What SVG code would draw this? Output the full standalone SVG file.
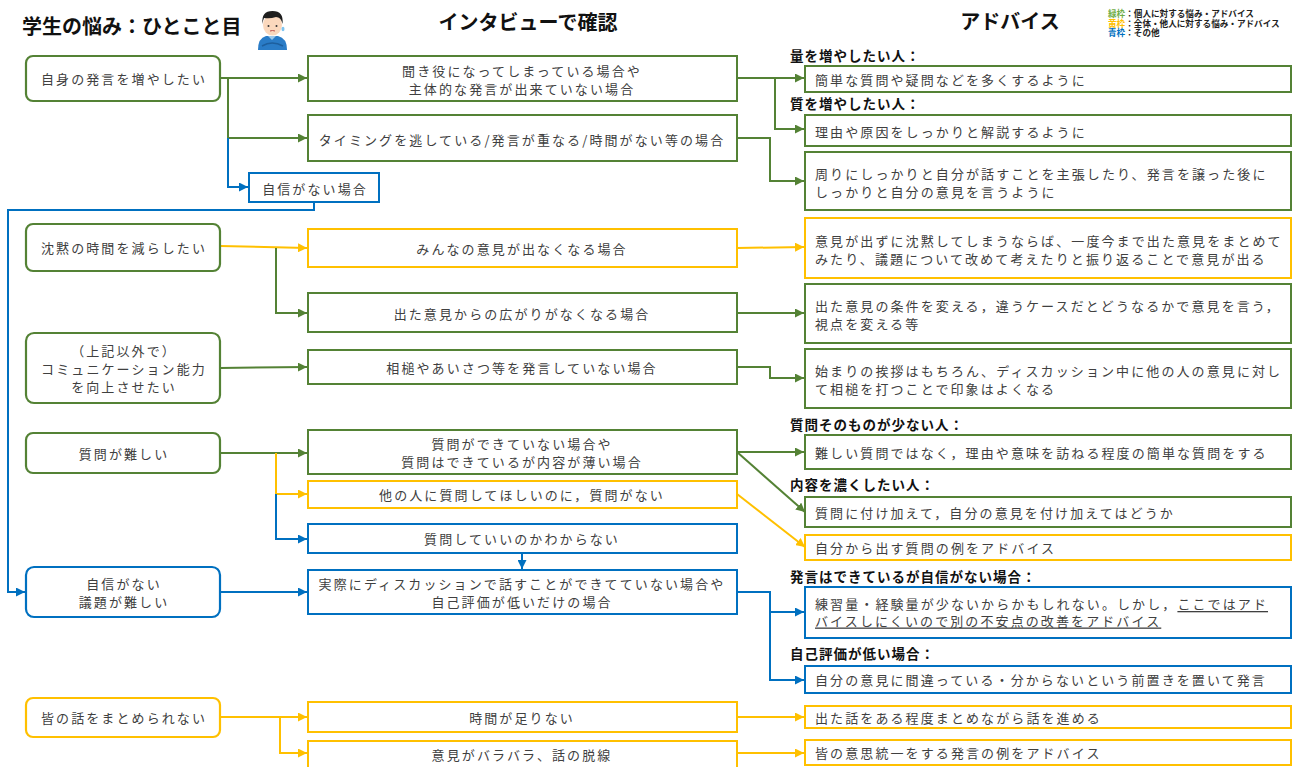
<svg xmlns="http://www.w3.org/2000/svg" width="1297" height="767" viewBox="0 0 1297 767">
  <style>
    .bx { fill: #fff; stroke-width: 2; }
    .rd { fill: #fff; stroke-width: 2.2; }
    .g { stroke: #548235; }
    .y { stroke: #FFC000; }
    .b { stroke: #0070C0; }
    .t { font-family: "Noto Sans CJK JP", "Noto Sans", sans-serif; font-size: 13px; fill: #404040; letter-spacing: 2.1px; dominant-baseline: central; }
    .c { text-anchor: middle; }
    .h { font-family: "Noto Sans CJK JP", "Noto Sans", sans-serif; font-size: 13.5px; font-weight: bold; fill: #111; letter-spacing: 1px; dominant-baseline: central; }
    .ttl { font-family: "Noto Sans CJK JP", "Noto Sans", sans-serif; font-size: 20px; font-weight: bold; fill: #111; dominant-baseline: central; }
    .lg { font-family: "Noto Sans CJK JP", "Noto Sans", sans-serif; font-size: 8.6px; font-weight: bold; fill: #222; dominant-baseline: central; }
    .ln { fill: none; stroke-width: 2; }
    .u { text-decoration: underline; }
  </style>
  <defs>
    <marker id="ag" viewBox="0 0 10 10" refX="10" refY="5" markerWidth="9" markerHeight="9" markerUnits="userSpaceOnUse" orient="auto"><path d="M0,0 L10,5 L0,10z" fill="#548235"/></marker>
    <marker id="ay" viewBox="0 0 10 10" refX="10" refY="5" markerWidth="9" markerHeight="9" markerUnits="userSpaceOnUse" orient="auto"><path d="M0,0 L10,5 L0,10z" fill="#FFC000"/></marker>
    <marker id="ab" viewBox="0 0 10 10" refX="10" refY="5" markerWidth="9" markerHeight="9" markerUnits="userSpaceOnUse" orient="auto"><path d="M0,0 L10,5 L0,10z" fill="#0070C0"/></marker>
  </defs>

  <rect width="1297" height="767" fill="#fff"/>

  <!-- headers -->
  <g id="headers">
    <text class="ttl" x="22" y="25">学生の悩み：ひとこと目</text>
    <text class="ttl c" x="528" y="21">インタビューで確認</text>
    <text class="ttl c" x="1010" y="20">アドバイス</text>
  </g>

  <!-- worried student figure -->
  <g id="figure">
    <path d="M258,50 Q258,38 266,36 L278,36 Q287,38 287,50 Z" fill="#2a7cc7"/>
    <path d="M262,46 Q272,40 283,46" fill="none" stroke="#1d5f9e" stroke-width="1.5"/>
    <path d="M268,36 L272,40 L276,36 Z" fill="#9cc8ea"/>
    <ellipse cx="272.5" cy="25" rx="9.5" ry="10.5" fill="#fbd8bd"/>
    <path d="M262.5,24 Q261,11 272.5,11 Q284,11 282.5,24 Q281,17 276,17 Q270,19 264,18 Q263,20 262.5,24 Z" fill="#1e1e1e"/>
    <circle cx="268.5" cy="26" r="1" fill="#333"/>
    <circle cx="276.5" cy="26" r="1" fill="#333"/>
    <path d="M270,31 Q272.5,30 275,31" fill="none" stroke="#c0504d" stroke-width="1"/>
    <ellipse cx="283" cy="29" rx="1.5" ry="2.2" fill="#7fc4f0"/>
  </g>

  <!-- legend -->
  <g id="legend">
    <text class="lg" x="1108" y="13"><tspan fill="#70AD47">緑枠</tspan>：個人に対する悩み・アドバイス</text>
    <text class="lg" x="1108" y="22.5"><tspan fill="#FFC000">黄枠</tspan>：全体・他人に対する悩み・アドバイス</text>
    <text class="lg" x="1108" y="32"><tspan fill="#0070C0">青枠</tspan>：その他</text>
  </g>

  <!-- connectors -->
  <g id="connectors">
    <path class="ln g" d="M220,78 H307" marker-end="url(#ag)"/>
    <path class="ln g" d="M228,78 V138 H307" marker-end="url(#ag)"/>
    <path class="ln b" d="M228,138 V187 H248" marker-end="url(#ab)"/>
    <path class="ln b" d="M314,202 V210 H8 V592 H25" marker-end="url(#ab)"/>
    <path class="ln g" d="M737,78 H804" marker-end="url(#ag)"/>
    <path class="ln g" d="M775,78 V129 H804" marker-end="url(#ag)"/>
    <path class="ln g" d="M737,138 H770 V181 H804" marker-end="url(#ag)"/>

    <path class="ln y" d="M220,246 L307,248" marker-end="url(#ay)"/>
    <path class="ln g" d="M276,248 V313 H307" marker-end="url(#ag)"/>
    <path class="ln y" d="M737,248 L804,247" marker-end="url(#ay)"/>
    <path class="ln g" d="M737,313 H804" marker-end="url(#ag)"/>
    <path class="ln g" d="M220,368 L307,367" marker-end="url(#ag)"/>
    <path class="ln g" d="M737,367 H770 V378 H804" marker-end="url(#ag)"/>

    <path class="ln g" d="M220,453 H307" marker-end="url(#ag)"/>
    <path class="ln y" d="M276,453 V494 H307" marker-end="url(#ay)"/>
    <path class="ln b" d="M276,494 V539 H307" marker-end="url(#ab)"/>
    <path class="ln b" d="M522,553 V569" marker-end="url(#ab)"/>
    <path class="ln b" d="M220,592 H307" marker-end="url(#ab)"/>
    <path class="ln g" d="M737,452 H804" marker-end="url(#ag)"/>
    <path class="ln g" d="M737,452 L805,512" marker-end="url(#ag)"/>
    <path class="ln y" d="M737,494 L805,547" marker-end="url(#ay)"/>
    <path class="ln b" d="M737,592 H770 V680 H804" marker-end="url(#ab)"/>
    <path class="ln b" d="M770,612 H804" marker-end="url(#ab)"/>

    <path class="ln y" d="M220,717 H307" marker-end="url(#ay)"/>
    <path class="ln y" d="M280,717 V753 H307" marker-end="url(#ay)"/>
    <path class="ln y" d="M737,717 H804" marker-end="url(#ay)"/>
    <path class="ln y" d="M737,753 H804" marker-end="url(#ay)"/>
  </g>

  <!-- concerns (left column) -->
  <g id="n-speak-more">
    <rect class="rd g" x="26" y="56" width="194" height="45" rx="7"/>
    <text class="t c" x="124" y="78">自身の発言を増やしたい</text>
  </g>
  <g id="n-silence">
    <rect class="rd g" x="26" y="224" width="194" height="47" rx="7"/>
    <text class="t c" x="124" y="247">沈黙の時間を減らしたい</text>
  </g>
  <g id="n-communication">
    <rect class="rd g" x="26" y="333" width="194" height="70" rx="8"/>
    <text class="t c" x="124" y="350">（上記以外で）</text>
    <text class="t c" x="124" y="368">コミュニケーション能力</text>
    <text class="t c" x="124" y="386">を向上させたい</text>
  </g>
  <g id="n-questions-hard">
    <rect class="rd g" x="26" y="433" width="194" height="40" rx="7"/>
    <text class="t c" x="124" y="453">質問が難しい</text>
  </g>
  <g id="n-no-confidence">
    <rect class="rd b" x="26" y="567" width="194" height="50" rx="8"/>
    <text class="t c" x="124" y="583">自信がない</text>
    <text class="t c" x="124" y="601">議題が難しい</text>
  </g>
  <g id="n-summarize">
    <rect class="rd y" x="26" y="698" width="194" height="39" rx="7"/>
    <text class="t c" x="124" y="717">皆の話をまとめられない</text>
  </g>

  <!-- interview findings (middle column) -->
  <g id="m-listener">
    <rect class="bx g" x="308" y="56" width="429" height="45"/>
    <text class="t c" x="522" y="70">聞き役になってしまっている場合や</text>
    <text class="t c" x="522" y="88">主体的な発言が出来ていない場合</text>
  </g>
  <g id="m-timing">
    <rect class="bx g" x="308" y="115" width="429" height="46"/>
    <text class="t c" x="522" y="139">タイミングを逃している/発言が重なる/時間がない等の場合</text>
  </g>
  <g id="m-no-confidence">
    <rect class="bx b" x="249" y="173" width="130" height="29"/>
    <text class="t c" x="315" y="188">自信がない場合</text>
  </g>
  <g id="m-no-opinions">
    <rect class="bx y" x="308" y="229" width="429" height="38"/>
    <text class="t c" x="522" y="248">みんなの意見が出なくなる場合</text>
  </g>
  <g id="m-no-spread">
    <rect class="bx g" x="308" y="293" width="429" height="39"/>
    <text class="t c" x="522" y="313">出た意見からの広がりがなくなる場合</text>
  </g>
  <g id="m-no-aizuchi">
    <rect class="bx g" x="308" y="350" width="429" height="34"/>
    <text class="t c" x="522" y="367">相槌やあいさつ等を発言していない場合</text>
  </g>
  <g id="m-weak-questions">
    <rect class="bx g" x="308" y="430" width="429" height="44"/>
    <text class="t c" x="522" y="443">質問ができていない場合や</text>
    <text class="t c" x="522" y="461">質問はできているが内容が薄い場合</text>
  </g>
  <g id="m-no-questions">
    <rect class="bx y" x="308" y="481" width="429" height="27"/>
    <text class="t c" x="522" y="494">他の人に質問してほしいのに，質問がない</text>
  </g>
  <g id="m-unsure">
    <rect class="bx b" x="308" y="524" width="429" height="29"/>
    <text class="t c" x="522" y="538">質問していいのかわからない</text>
  </g>
  <g id="m-self-eval">
    <rect class="bx b" x="308" y="570" width="429" height="44"/>
    <text class="t c" x="522" y="583">実際にディスカッションで話すことができてていない場合や</text>
    <text class="t c" x="522" y="601">自己評価が低いだけの場合</text>
  </g>
  <g id="m-no-time">
    <rect class="bx y" x="308" y="702" width="429" height="30"/>
    <text class="t c" x="522" y="717">時間が足りない</text>
  </g>
  <g id="m-scattered">
    <rect class="bx y" x="308" y="741" width="429" height="28"/>
    <text class="t c" x="522" y="754">意見がバラバラ、話の脱線</text>
  </g>

  <!-- advice (right column) -->
  <g id="a-quantity">
    <text class="h" x="790" y="55">量を増やしたい人：</text>
    <rect class="bx g" x="805" y="66" width="486" height="26"/>
    <text class="t" x="815" y="79">簡単な質問や疑問などを多くするように</text>
  </g>
  <g id="a-quality">
    <text class="h" x="790" y="103">質を増やしたい人：</text>
    <rect class="bx g" x="805" y="115" width="486" height="31"/>
    <text class="t" x="815" y="131">理由や原因をしっかりと解説するように</text>
  </g>
  <g id="a-assert">
    <rect class="bx g" x="805" y="152" width="486" height="58"/>
    <text class="t" x="815" y="173">周りにしっかりと自分が話すことを主張したり、発言を譲った後に</text>
    <text class="t" x="815" y="191">しっかりと自分の意見を言うように</text>
  </g>
  <g id="a-reflect">
    <rect class="bx y" x="805" y="218" width="486" height="60"/>
    <text class="t" x="815" y="240">意見が出ずに沈黙してしまうならば、一度今まで出た意見をまとめて</text>
    <text class="t" x="815" y="258">みたり、議題について改めて考えたりと振り返ることで意見が出る</text>
  </g>
  <g id="a-conditions">
    <rect class="bx g" x="805" y="284" width="486" height="59"/>
    <text class="t" x="815" y="305">出た意見の条件を変える，違うケースだとどうなるかで意見を言う，</text>
    <text class="t" x="815" y="323">視点を変える等</text>
  </g>
  <g id="a-greeting">
    <rect class="bx g" x="805" y="349" width="486" height="59"/>
    <text class="t" x="815" y="370">始まりの挨拶はもちろん、ディスカッション中に他の人の意見に対し</text>
    <text class="t" x="815" y="388">て相槌を打つことで印象はよくなる</text>
  </g>
  <g id="a-simple-questions">
    <text class="h" x="790" y="424">質問そのものが少ない人：</text>
    <rect class="bx g" x="805" y="435" width="486" height="34"/>
    <text class="t" x="815" y="452">難しい質問ではなく，理由や意味を訪ねる程度の簡単な質問をする</text>
  </g>
  <g id="a-add-opinion">
    <text class="h" x="790" y="484">内容を濃くしたい人：</text>
    <rect class="bx g" x="805" y="497" width="486" height="30"/>
    <text class="t" x="815" y="512">質問に付け加えて，自分の意見を付け加えてはどうか</text>
  </g>
  <g id="a-question-examples">
    <rect class="bx y" x="805" y="535" width="486" height="25"/>
    <text class="t" x="815" y="547">自分から出す質問の例をアドバイス</text>
  </g>
  <g id="a-practice">
    <text class="h" x="790" y="576">発言はできているが自信がない場合：</text>
    <rect class="bx b" x="805" y="587" width="486" height="51"/>
    <text class="t" x="815" y="603">練習量・経験量が少ないからかもしれない。しかし，<tspan class="u">ここではアド</tspan></text>
    <text class="t u" x="815" y="620">バイスしにくいので別の不安点の改善をアドバイス</text>
  </g>
  <g id="a-preface">
    <text class="h" x="790" y="653">自己評価が低い場合：</text>
    <rect class="bx b" x="805" y="666" width="486" height="27"/>
    <text class="t" x="815" y="679">自分の意見に間違っている・分からないという前置きを置いて発言</text>
  </g>
  <g id="a-summarize">
    <rect class="bx y" x="805" y="706" width="486" height="22"/>
    <text class="t" x="815" y="717">出た話をある程度まとめながら話を進める</text>
  </g>
  <g id="a-unify">
    <rect class="bx y" x="805" y="740" width="486" height="25"/>
    <text class="t" x="815" y="752">皆の意思統一をする発言の例をアドバイス</text>
  </g>
</svg>
